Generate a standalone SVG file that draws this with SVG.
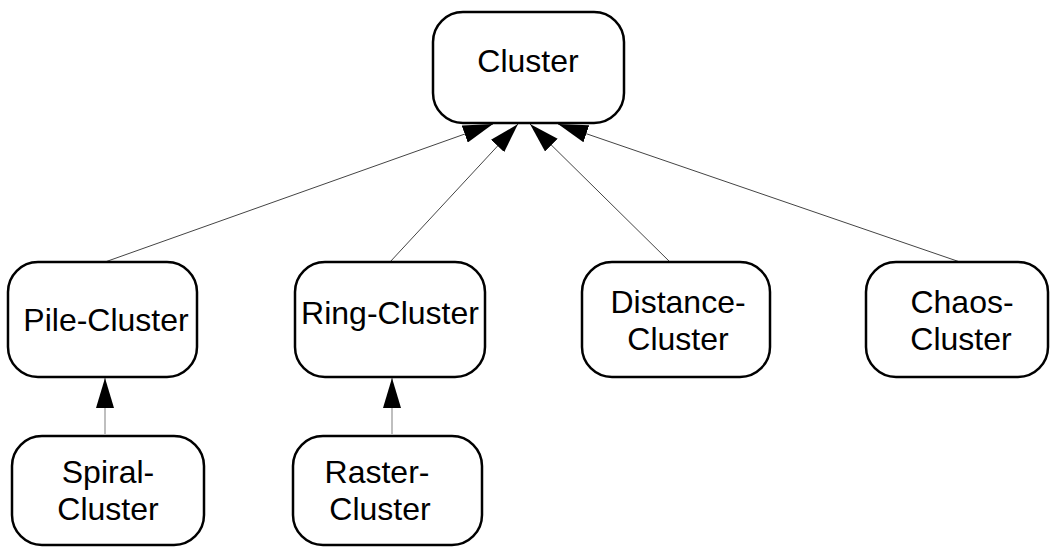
<svg xmlns="http://www.w3.org/2000/svg" width="1051" height="548" viewBox="0 0 1051 548">
<style>
.box{fill:#fff;stroke:#000;stroke-width:2.5}
.t{font-family:"Liberation Sans",Arial,sans-serif;font-size:32px;fill:#000;text-anchor:middle}
.c1{stroke:#444;stroke-width:1;fill:none}
.c2{stroke:#aaa;stroke-width:1.5;fill:none}
</style>
<defs>
<marker id="ah" markerUnits="userSpaceOnUse" markerWidth="31" markerHeight="18" refX="30" refY="9" orient="auto" viewBox="0 0 31 18">
<path d="M0,0 L30,9 L0,18 Z" fill="#000"/>
</marker>
</defs>
<rect width="1051" height="548" fill="#fff"/>
<g id="connectors">
<line class="c1" x1="105" y1="262" x2="493" y2="124" marker-end="url(#ah)"/>
<line class="c1" x1="390" y1="262" x2="518" y2="124" marker-end="url(#ah)"/>
<line class="c1" x1="670" y1="262" x2="530" y2="124" marker-end="url(#ah)"/>
<line class="c1" x1="960" y1="262" x2="558" y2="124" marker-end="url(#ah)"/>
<line class="c2" x1="105" y1="434" x2="105" y2="378" marker-end="url(#ah)"/>
<line class="c2" x1="392" y1="434" x2="392" y2="378" marker-end="url(#ah)"/>
</g>
<g id="cluster">
<rect class="box" x="433" y="12" width="191" height="111" rx="30"/>
<text class="t" x="528" y="72">Cluster</text>
</g>
<g id="pile">
<rect class="box" x="8" y="262" width="189" height="115" rx="30"/>
<text class="t" x="106" y="331">Pile-Cluster</text>
</g>
<g id="ring">
<rect class="box" x="295" y="262" width="190" height="115" rx="30"/>
<text class="t" x="390" y="324">Ring-Cluster</text>
</g>
<g id="distance">
<rect class="box" x="582" y="262" width="188" height="115" rx="30"/>
<text class="t" x="678" y="313">Distance-</text>
<text class="t" x="678" y="350">Cluster</text>
</g>
<g id="chaos">
<rect class="box" x="866" y="262" width="182" height="115" rx="30"/>
<text class="t" x="962" y="313">Chaos-</text>
<text class="t" x="961" y="350">Cluster</text>
</g>
<g id="spiral">
<rect class="box" x="12" y="436" width="192" height="109" rx="30"/>
<text class="t" x="108" y="483">Spiral-</text>
<text class="t" x="108" y="520">Cluster</text>
</g>
<g id="raster">
<rect class="box" x="293" y="436" width="189" height="109" rx="30"/>
<text class="t" x="377" y="483">Raster-</text>
<text class="t" x="380" y="520">Cluster</text>
</g>
</svg>
